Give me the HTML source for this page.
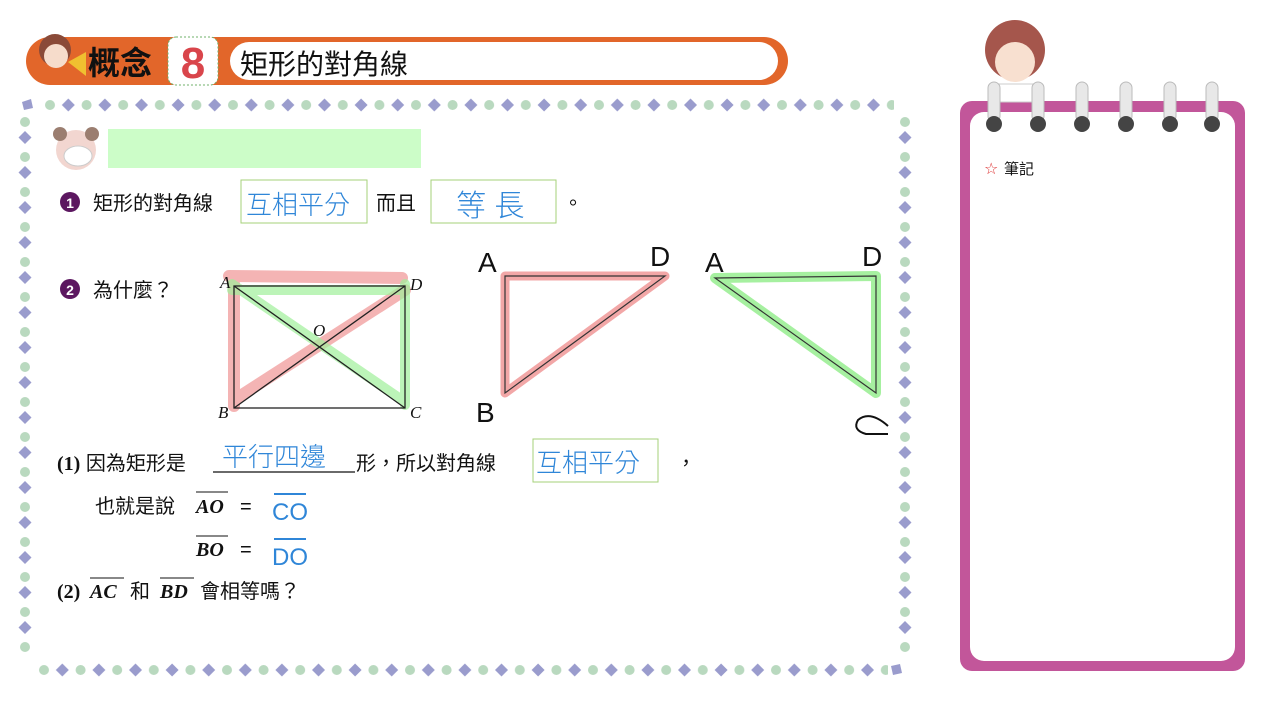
<!DOCTYPE html>
<html><head><meta charset="utf-8"><style>
body{margin:0;width:1280px;height:720px;background:#fff;overflow:hidden;font-family:"Liberation Sans","Noto Sans CJK TC",sans-serif}
svg{position:absolute;left:0;top:0}
.t{font-family:"Liberation Sans","Noto Sans CJK TC",sans-serif;font-size:20px;fill:#111}
.s{font-family:"Liberation Serif","Noto Serif CJK SC",serif;font-style:italic;font-weight:bold;font-size:20px;fill:#111}
.h{font-family:"Liberation Sans","Noto Sans CJK TC",sans-serif;font-size:26px;fill:#2f86d8;font-weight:300}
</style></head><body>
<svg width="1280" height="720" viewBox="0 0 1280 720">
<defs>
<pattern id="ph" x="44" y="97" width="36.6" height="16" patternUnits="userSpaceOnUse">
<circle cx="6" cy="8" r="5" fill="#b9d9bf"/><path d="M24.3 1.5 L30.8 8 L24.3 14.5 L17.8 8Z" fill="#9a9ccd"/></pattern>
<pattern id="pb" x="38" y="662" width="36.6" height="16" patternUnits="userSpaceOnUse">
<circle cx="6" cy="8" r="5" fill="#b9d9bf"/><path d="M24.3 1.5 L30.8 8 L24.3 14.5 L17.8 8Z" fill="#9a9ccd"/></pattern>
<pattern id="pv" x="17" y="114" width="16" height="35" patternUnits="userSpaceOnUse">
<circle cx="8" cy="8" r="5" fill="#b9d9bf"/><path d="M8 17 L14.5 23.5 L8 30 L1.5 23.5Z" fill="#9a9ccd"/></pattern>
</defs>
<!-- header -->
<rect x="26" y="37" width="762" height="48" rx="24" fill="#e2662a"/>
<rect x="230" y="42" width="548" height="38" rx="19" fill="#fff"/>
<rect x="168" y="37" width="50" height="48" rx="8" fill="#fff" stroke="#6fb06a" stroke-dasharray="2 2"/>
<text x="193" y="78" text-anchor="middle" font-family="Liberation Sans" font-weight="bold" font-size="44" fill="#d9454b">8</text>
<text x="88" y="74" class="t" style="font-size:32px;font-weight:bold">概念</text>
<text x="240" y="74" class="t" style="font-size:28px">矩形的對角線</text>
<circle cx="55" cy="50" r="16" fill="#8a4a38"/><circle cx="56" cy="56" r="12" fill="#f6dccb"/>
<path d="M68 62 L86 52 L86 76Z" fill="#f0c030"/>
<!-- frame -->
<rect x="44" y="97" width="850" height="16" fill="url(#ph)"/>
<rect x="38" y="662" width="850" height="16" fill="url(#pb)"/>
<rect x="17" y="114" width="16" height="540" fill="url(#pv)"/>
<rect x="897" y="114" width="16" height="540" fill="url(#pv)"/>
<path d="M22 102 L31 99 L33 108 L24 110Z" fill="#9a9ccd"/>
<path d="M891 666 L900 664 L902 673 L893 675Z" fill="#9a9ccd"/>
<!-- mascot + green bar -->
<circle cx="76" cy="150" r="20" fill="#f2d6d0"/><circle cx="60" cy="134" r="7" fill="#9b7e70"/><circle cx="92" cy="134" r="7" fill="#9b7e70"/>
<ellipse cx="78" cy="156" rx="14" ry="10" fill="#fff" stroke="#ccc"/>
<rect x="108" y="129" width="313" height="39" fill="#ccfdc8"/>
<!-- line 1 -->
<circle cx="70" cy="202" r="10" fill="#5c1760"/><text x="70" y="208" text-anchor="middle" fill="#fff" font-size="14" font-weight="bold" font-family="Liberation Sans">1</text>
<text x="93" y="210" class="t">矩形的對角線</text>
<rect x="241" y="180" width="126" height="43" fill="none" stroke="#a6d07a"/>
<text x="246" y="214" class="h">互相平分</text>
<text x="376" y="210" class="t">而且</text>
<rect x="431" y="180" width="125" height="43" fill="none" stroke="#a6d07a"/>
<text x="456" y="216" class="h" style="font-size:30px">等 長</text>
<text x="563" y="210" class="t">。</text>
<!-- line 2 -->
<circle cx="70" cy="289" r="10" fill="#5c1760"/><text x="70" y="295" text-anchor="middle" fill="#fff" font-size="14" font-weight="bold" font-family="Liberation Sans">2</text>
<text x="93" y="297" class="t">為什麼？</text>
<!-- rectangle figure -->
<g stroke-linecap="round" stroke-linejoin="round" fill="none">
<path d="M229 276 L402 278 M234 284 L234 406 M234 400 L405 290" stroke="#f2a7a7" stroke-width="12" opacity=".85"/>
<path d="M232 284 L402 400 M405 284 L405 405 M232 290 L400 290" stroke="#9ff09a" stroke-width="10" opacity=".7"/>
</g>
<g stroke="#222" stroke-width="1.3" fill="none"><rect x="234" y="286" width="171" height="122"/><path d="M234 286 L405 408 M234 408 L405 286"/></g>
<text x="220" y="288" class="s" style="font-weight:normal;font-size:17px">A</text>
<text x="410" y="290" class="s" style="font-weight:normal;font-size:17px">D</text>
<text x="313" y="336" class="s" style="font-weight:normal;font-size:17px">O</text>
<text x="218" y="418" class="s" style="font-weight:normal;font-size:17px">B</text>
<text x="410" y="418" class="s" style="font-weight:normal;font-size:17px">C</text>
<!-- triangle ABD -->
<path d="M505 276 L665 276 L505 393Z" fill="none" stroke="#f2a7a7" stroke-width="9" stroke-linejoin="round"/>
<path d="M505 276 L665 276 L505 393Z" fill="none" stroke="#333" stroke-width="1.2"/>
<text x="478" y="272" font-size="28" fill="#111" font-family="Liberation Sans">A</text>
<text x="650" y="266" font-size="28" fill="#111" font-family="Liberation Sans">D</text>
<text x="476" y="422" font-size="28" fill="#111" font-family="Liberation Sans">B</text>
<!-- triangle ADC -->
<path d="M715 278 L876 276 L876 393Z" fill="none" stroke="#a6f0a0" stroke-width="10" stroke-linejoin="round"/>
<path d="M715 278 L876 276 L876 393Z" fill="none" stroke="#333" stroke-width="1.2"/>
<text x="705" y="272" font-size="28" fill="#111" font-family="Liberation Sans">A</text>
<text x="862" y="266" font-size="28" fill="#111" font-family="Liberation Sans">D</text>
<path d="M888 426 Q870 410 858 420 Q852 430 866 434 L888 434" fill="none" stroke="#111" stroke-width="2"/>
<!-- (1) -->
<text x="57" y="470" class="t"><tspan font-family="Liberation Serif" font-weight="bold">(1)</tspan> 因為矩形是</text>
<line x1="213" y1="472" x2="355" y2="472" stroke="#111" stroke-width="1.2"/>
<text x="222" y="466" class="h">平行四邊</text>
<text x="356" y="470" class="t">形，所以對角線</text>
<rect x="533" y="439" width="125" height="43" fill="none" stroke="#a6d07a"/>
<text x="536" y="472" class="h">互相平分</text>
<text x="676" y="470" class="t">，</text>
<text x="95" y="513" class="t">也就是說</text>
<text x="196" y="513" class="s">AO</text><line x1="196" y1="492" x2="228" y2="492" stroke="#111"/>
<text x="240" y="513" class="t">=</text>
<text x="272" y="520" class="h" style="font-size:24px">CO</text><line x1="274" y1="494" x2="306" y2="494" stroke="#2f86d8" stroke-width="2"/>
<text x="196" y="556" class="s">BO</text><line x1="196" y1="536" x2="228" y2="536" stroke="#111"/>
<text x="240" y="556" class="t">=</text>
<text x="272" y="565" class="h" style="font-size:24px">DO</text><line x1="274" y1="539" x2="306" y2="539" stroke="#2f86d8" stroke-width="2"/>
<text x="57" y="598" class="t"><tspan font-family="Liberation Serif" font-weight="bold">(2)</tspan></text>
<text x="90" y="598" class="s">AC</text><line x1="90" y1="578" x2="124" y2="578" stroke="#111"/>
<text x="130" y="598" class="t">和</text>
<text x="160" y="598" class="s">BD</text><line x1="160" y1="578" x2="194" y2="578" stroke="#111"/>
<text x="200" y="598" class="t">會相等嗎？</text>
<!-- notebook -->
<rect x="960" y="101" width="285" height="570" rx="12" fill="#c2569a"/>
<rect x="970" y="112" width="265" height="549" rx="14" fill="#fff"/>
<circle cx="1015" cy="50" r="30" fill="#a5564c"/><circle cx="1015" cy="62" r="20" fill="#f8e0d0"/>
<rect x="998" y="84" width="36" height="18" fill="#fff" stroke="#ccc"/>
<g fill="#e8e8e8" stroke="#bbb">
<rect x="988" y="82" width="12" height="40" rx="6"/><rect x="1032" y="82" width="12" height="40" rx="6"/><rect x="1076" y="82" width="12" height="40" rx="6"/><rect x="1120" y="82" width="12" height="40" rx="6"/><rect x="1164" y="82" width="12" height="40" rx="6"/><rect x="1206" y="82" width="12" height="40" rx="6"/>
</g>
<g fill="#444"><circle cx="994" cy="124" r="8"/><circle cx="1038" cy="124" r="8"/><circle cx="1082" cy="124" r="8"/><circle cx="1126" cy="124" r="8"/><circle cx="1170" cy="124" r="8"/><circle cx="1212" cy="124" r="8"/></g>
<text x="984" y="174" font-size="16" fill="#d33" font-family="DejaVu Sans">☆</text>
<text x="1004" y="174" font-size="15" fill="#111" font-family="Liberation Sans,Noto Sans CJK TC,sans-serif">筆記</text>
</svg>
</body></html>
